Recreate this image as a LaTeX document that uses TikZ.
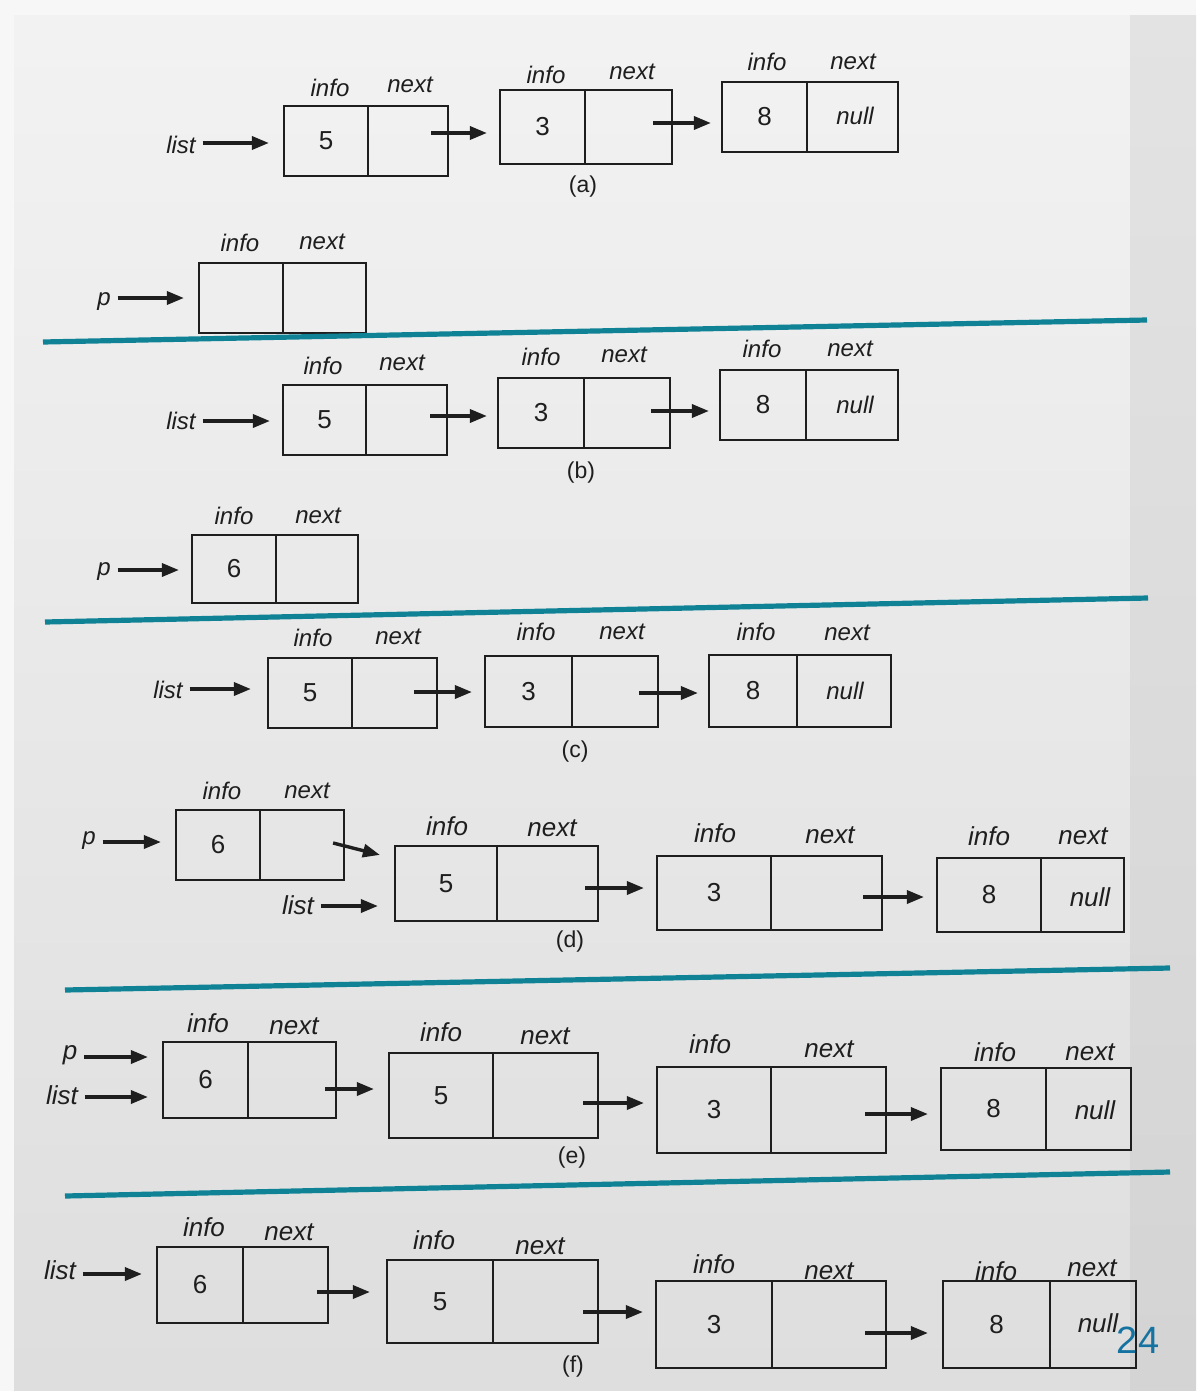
\documentclass[tikz,border=0pt]{standalone}
\usepackage{fontspec}
\setsansfont{Liberation Sans}
\usetikzlibrary{arrows.meta,fit}
\definecolor{tealline}{RGB}{16,130,150}
\definecolor{pagenum}{RGB}{20,115,160}
\definecolor{ink}{RGB}{30,30,30}
\newcommand{\llcell}[7]{%
  \node[box,fit={(#2,#3) (#4,#5)}] (#1) {};
  \draw[divider] (#6,#3) -- (#6,#5);
  \node[val] (#1v) at ({(#2+#6)/2},{(#3+#5)/2}) {#7};
}
\newcommand{\hdr}[5]{%
  \node[lab] (#1i) at (#2,#3) {info};
  \node[lab] (#1x) at (#4,#5) {next};
}
\begin{document}
\begin{tikzpicture}[x=0.5pt,y=-0.5pt,
  box/.style={draw=ink,line width=1.1pt,inner sep=0pt},
  divider/.style={draw=ink,line width=1.1pt},
  ptr/.style={draw=ink,line width=1.7pt,-{Triangle[length=8.5pt,width=6.5pt]}},
  lab/.style={text=ink,font=\sffamily\itshape\fontsize{12}{14}\selectfont},
  labb/.style={text=ink,font=\sffamily\itshape\fontsize{13}{15}\selectfont},
  val/.style={text=ink,font=\sffamily\fontsize{13}{15}\selectfont},
  figcap/.style={text=ink,font=\sffamily\fontsize{11.5}{13}\selectfont},
  sep/.style={draw=tealline,line width=2.6pt}]
\useasboundingbox (0,0) rectangle (1196,1391);
% background
\fill[black!3] (0,0) rectangle (1196,1391);
\shade[top color=black!5,bottom color=black!13] (14,16) rectangle (1130,1391);
\shade[top color=black!11,bottom color=black!17] (1130,16) rectangle (1196,1391);

% ---------- (a) ----------
\node[lab] (la) at (181,145) {list};
\llcell{a1}{284}{106}{448}{176}{368}{5}
\llcell{a2}{500}{90}{672}{164}{585}{3}
\llcell{a3}{722}{82}{898}{152}{807}{8}
\node[lab] (a3n) at (855,116) {null};
\hdr{a1}{330}{88}{410}{85}
\hdr{a2}{546}{75}{632}{72}
\hdr{a3}{767}{62}{853}{62}
\draw[ptr] (la.east |- 0,143) -- ([xshift=-7pt]a1.west |- 0,143);
\draw[ptr] ([xshift=-9pt]a1.east |- 0,133) -- ([xshift=-6pt]a2.west |- 0,133);
\draw[ptr] ([xshift=-10pt]a2.east |- 0,123) -- ([xshift=-5pt]a3.west |- 0,123);
\node[figcap] (ca) at (583,187) {(a)};
\node[lab] (pa) at (104,302) {p};
\llcell{ap}{199}{263}{366}{333}{283}{}
\hdr{ap}{240}{243}{322}{242}
\draw[ptr] (pa.east |- 0,298) -- ([xshift=-7pt]ap.west |- 0,298);
\coordinate (s1a) at (43,342); \coordinate (s1b) at (1147,320);
\draw[sep] (s1a) -- (s1b);

% ---------- (b) ----------
\node[lab] (lb) at (181,421) {list};
\llcell{b1}{283}{385}{447}{455}{366}{5}
\llcell{b2}{498}{378}{670}{448}{584}{3}
\llcell{b3}{720}{370}{898}{440}{806}{8}
\node[lab] (b3n) at (855,405) {null};
\hdr{b1}{323}{366}{402}{363}
\hdr{b2}{541}{357}{624}{355}
\hdr{b3}{762}{349}{850}{349}
\draw[ptr] (lb.east |- 0,421) -- ([xshift=-6pt]b1.west |- 0,421);
\draw[ptr] ([xshift=-9pt]b1.east |- 0,416) -- ([xshift=-5pt]b2.west |- 0,416);
\draw[ptr] ([xshift=-10pt]b2.east |- 0,411) -- ([xshift=-5pt]b3.west |- 0,411);
\node[figcap] (cb) at (581,473) {(b)};
\node[lab] (pb) at (104,572) {p};
\llcell{bp}{192}{535}{358}{603}{276}{6}
\hdr{bp}{234}{516}{318}{516}
\draw[ptr] (pb.east |- 0,570) -- ([xshift=-6pt]bp.west |- 0,570);
\coordinate (s2a) at (45,622); \coordinate (s2b) at (1148,598);
\draw[sep] (s2a) -- (s2b);

% ---------- (c) ----------
\node[lab] (lc) at (168,690) {list};
\llcell{c1}{268}{658}{437}{728}{352}{5}
\llcell{c2}{485}{656}{658}{727}{572}{3}
\llcell{c3}{709}{655}{891}{727}{797}{8}
\node[lab] (c3n) at (845,691) {null};
\hdr{c1}{313}{638}{398}{637}
\hdr{c2}{536}{632}{622}{632}
\hdr{c3}{756}{632}{847}{633}
\draw[ptr] (lc.east |- 0,689) -- ([xshift=-8pt]c1.west |- 0,689);
\draw[ptr] ([xshift=-12pt]c1.east |- 0,692) -- ([xshift=-6pt]c2.west |- 0,692);
\draw[ptr] ([xshift=-10pt]c2.east |- 0,693) -- ([xshift=-5pt]c3.west |- 0,693);
\node[figcap] (cc) at (575,752) {(c)};

% ---------- (d) ----------
\node[lab] (pd) at (89,841) {p};
\llcell{dp}{176}{810}{344}{880}{260}{6}
\hdr{dp}{222}{791}{307}{791}
\draw[ptr] (pd.east |- 0,842) -- ([xshift=-7pt]dp.west |- 0,842);
\llcell{d1}{395}{846}{598}{921}{497}{5}
\llcell{d2}{657}{856}{882}{930}{771}{3}
\llcell{d3}{937}{858}{1124}{932}{1041}{8}
\node[labb] (d3n) at (1090,897) {null};
\node[labb] (d1i) at (447,826) {info};
\node[labb] (d1x) at (552,828) {next};
\node[labb] (d2i) at (715,833) {info};
\node[labb] (d2x) at (830,835) {next};
\node[labb] (d3i) at (989,836) {info};
\node[labb] (d3x) at (1083,836) {next};
\node[labb] (ld) at (298,905) {list};
\draw[ptr] ([xshift=-6pt]dp.east |- 0,843) -- ([xshift=-7pt,yshift=-5pt]d1.north west);
\draw[ptr] (ld.east |- 0,906) -- ([xshift=-8pt]d1.west |- 0,906);
\draw[ptr] ([xshift=-7pt]d1.east |- 0,888) -- ([xshift=-6pt]d2.west |- 0,888);
\draw[ptr] ([xshift=-10pt]d2.east |- 0,897) -- ([xshift=-6pt]d3.west |- 0,897);
\node[figcap] (cd) at (570,942) {(d)};
\coordinate (s3a) at (65,990); \coordinate (s3b) at (1170,968);
\draw[sep] (s3a) -- (s3b);

% ---------- (e) ----------
\node[labb] (pe) at (70,1055) {p};
\node[labb] (le) at (62,1095) {list};
\llcell{e1}{163}{1042}{336}{1118}{248}{6}
\llcell{e2}{389}{1053}{598}{1138}{493}{5}
\llcell{e3}{657}{1067}{886}{1153}{771}{3}
\llcell{e4}{941}{1068}{1131}{1150}{1046}{8}
\node[labb] (e4n) at (1095,1110) {null};
\node[labb] (e1i) at (208,1023) {info};
\node[labb] (e1x) at (294,1026) {next};
\node[labb] (e2i) at (441,1032) {info};
\node[labb] (e2x) at (545,1036) {next};
\node[labb] (e3i) at (710,1044) {info};
\node[labb] (e3x) at (829,1049) {next};
\node[labb] (e4i) at (995,1052) {info};
\node[labb] (e4x) at (1090,1052) {next};
\draw[ptr] (pe.east |- 0,1057) -- ([xshift=-7pt]e1.west |- 0,1057);
\draw[ptr] (le.east |- 0,1097) -- ([xshift=-7pt]e1.west |- 0,1097);
\draw[ptr] ([xshift=-6pt]e1.east |- 0,1089) -- ([xshift=-7pt]e2.west |- 0,1089);
\draw[ptr] ([xshift=-8pt]e2.east |- 0,1103) -- ([xshift=-6pt]e3.west |- 0,1103);
\draw[ptr] ([xshift=-11pt]e3.east |- 0,1114) -- ([xshift=-6pt]e4.west |- 0,1114);
\node[figcap] (ce) at (572,1158) {(e)};
\coordinate (s4a) at (65,1196); \coordinate (s4b) at (1170,1172);
\draw[sep] (s4a) -- (s4b);

% ---------- (f) ----------
\node[labb] (lf) at (60,1270) {list};
\llcell{f1}{157}{1247}{328}{1323}{243}{6}
\llcell{f2}{387}{1260}{598}{1343}{493}{5}
\llcell{f3}{656}{1281}{886}{1368}{772}{3}
\llcell{f4}{943}{1281}{1136}{1368}{1050}{8}
\node[labb] (f4n) at (1098,1323) {null};
\node[labb] (f1i) at (204,1227) {info};
\node[labb] (f1x) at (289,1232) {next};
\node[labb] (f2i) at (434,1240) {info};
\node[labb] (f2x) at (540,1246) {next};
\node[labb] (f3i) at (714,1264) {info};
\node[labb] (f3x) at (829,1271) {next};
\node[labb] (f4i) at (996,1271) {info};
\node[labb] (f4x) at (1092,1268) {next};
\draw[ptr] (lf.east |- 0,1274) -- ([xshift=-7pt]f1.west |- 0,1274);
\draw[ptr] ([xshift=-6pt]f1.east |- 0,1292) -- ([xshift=-8pt]f2.west |- 0,1292);
\draw[ptr] ([xshift=-8pt]f2.east |- 0,1312) -- ([xshift=-6pt]f3.west |- 0,1312);
\draw[ptr] ([xshift=-11pt]f3.east |- 0,1333) -- ([xshift=-7pt]f4.west |- 0,1333);
\node[figcap] (cf) at (573,1367) {(f)};
\node[text=pagenum,font=\sffamily\fontsize{19}{21}\selectfont] (pg) at (1138,1340) {24};
\end{tikzpicture}
\end{document}
